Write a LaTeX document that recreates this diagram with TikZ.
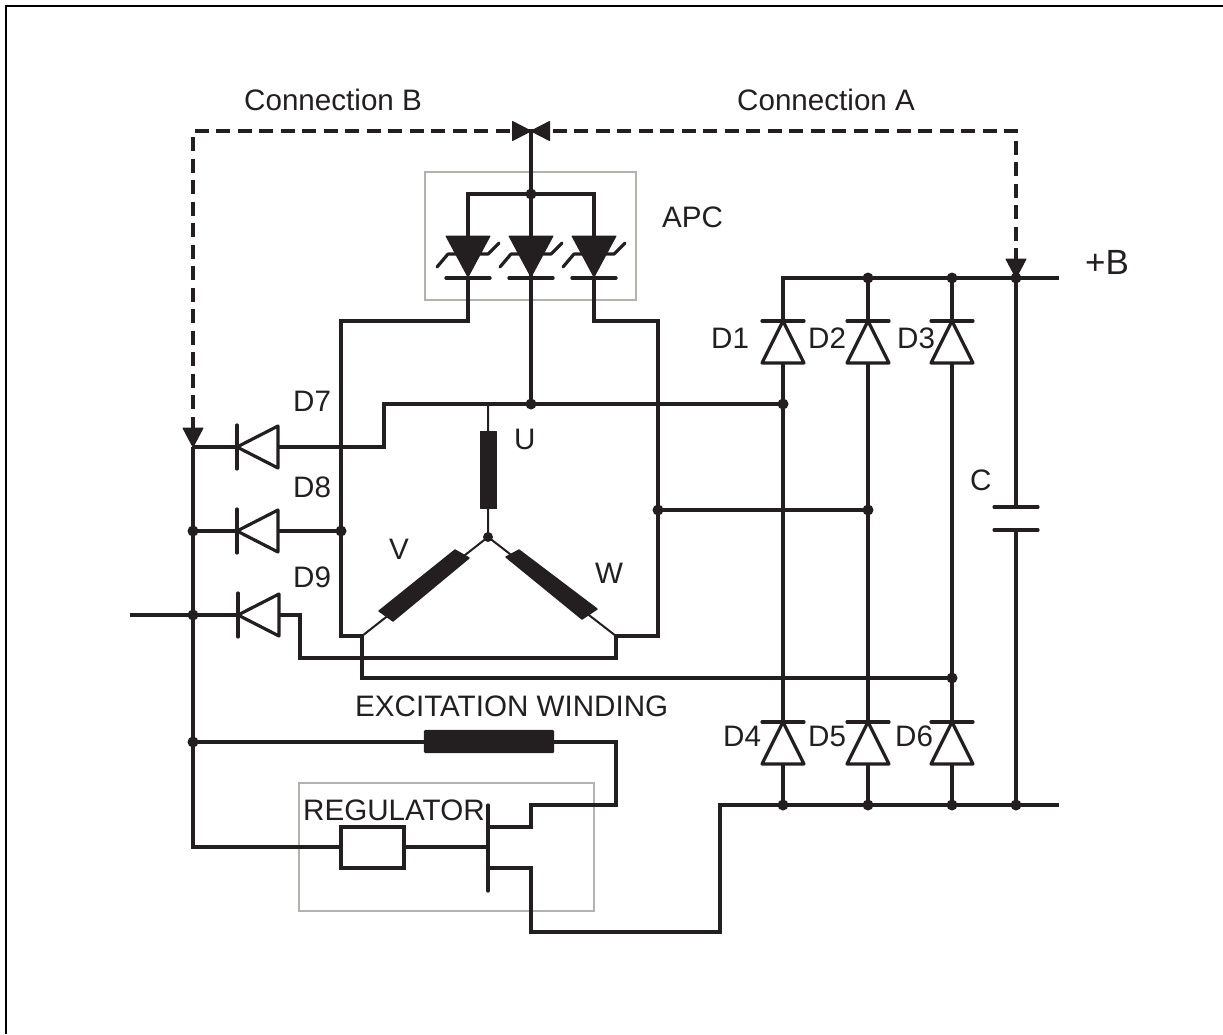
\documentclass[tikz,border=0pt]{standalone}
\usepackage{fontspec}
\setmainfont{Liberation Sans}
\usetikzlibrary{calc}
\definecolor{ink}{HTML}{231F20}
\definecolor{boxgray}{HTML}{B4B2AC}
\tikzset{
  x=1pt,y=-1pt,
  wire/.style={draw=ink,line width=3.2pt,line join=miter,line cap=butt},
  lead/.style={draw=ink,line width=2pt},
  dashwire/.style={draw=ink,line width=3.2pt,dash pattern=on 14pt off 7.5pt},
  framerule/.style={draw=black,line width=2.2pt},
  graybox/.style={draw=boxgray,line width=1.3pt},
  dotnode/.style={circle,fill=ink,inner sep=0pt,minimum size=11pt},
  coil/.style={fill=ink,draw=ink,line width=1.4pt,line join=round},
  lbl/.style={inner sep=0pt,anchor=base west,text=ink,font=\fontsize{29.6}{32}\selectfont},
  biglbl/.style={lbl,font=\fontsize{35}{38}\selectfont},
  pics/diodeup/.style={code={
    \draw[draw=ink,line width=3.2pt,line join=round,line cap=round] (-21,42) -- (21,42) -- (0,0) -- cycle;
    \draw[draw=ink,line width=3.2pt,line cap=round] (-21,0) -- (21,0);
  }},
  pics/diodeleft/.style={code={
    \draw[draw=ink,line width=3.2pt,line join=round,line cap=round] (41,-21) -- (41,21) -- (0,0) -- cycle;
    \draw[draw=ink,line width=3.2pt,line cap=round] (0,-22) -- (0,22);
  }},
  pics/tvs/.style={code={
    \fill[ink,draw=ink,line width=1pt,line join=round] (-22,0) -- (22,0) -- (0,41) -- cycle;
    \draw[draw=ink,line width=3.4pt,line cap=round] (-22,42) -- (22,42);
    \draw[draw=ink,line width=3.2pt,line cap=round,line join=round] (-31,31) -- (-20,18) -- (-8,18);
    \draw[draw=ink,line width=3.2pt,line cap=round,line join=round] (12,18) -- (20,18) -- (31,7);
  }},
  pics/arrowdown/.style={code={
    \fill[ink,draw=ink,line width=1pt,line join=round] (-10,-19) -- (10,-19) -- (0,0) -- cycle;
  }},
}
\begin{document}
\begin{tikzpicture}
\useasboundingbox (0,0) rectangle (1223,1034);
% frame, open at right and bottom
\coordinate (frameTL) at (6,6);
\coordinate (frameTR) at (1223,6);
\coordinate (frameBL) at (6,1034);
\draw[framerule] (frameBL) -- (frameTL) -- (frameTR);
% grey boxes
\node[graybox,rectangle,minimum width=211pt,minimum height=128pt,inner sep=0pt] (apcbox) at (530.5,236) {};
\node[graybox,rectangle,minimum width=295pt,minimum height=128pt,inner sep=0pt] (regbox) at (446.5,847) {};
% coordinates
\coordinate (dl) at (193,131);
\coordinate (dr) at (1016,131);
\coordinate (bow) at (531,131);
\coordinate (jTop) at (531,194);
\coordinate (apcL) at (468,194);
\coordinate (apcR) at (594,194);
\coordinate (vL) at (341,321);
\coordinate (vR) at (658,321);
\coordinate (star) at (488,537);
\coordinate (endV) at (362,636);
\coordinate (endW) at (616,636);
\coordinate (j7) at (193,447);
\coordinate (j8) at (193,531);
\coordinate (j9) at (193,615);
\coordinate (jExc) at (193,742);
\coordinate (jReg) at (193,847);
\coordinate (busU) at (384,404);
\coordinate (jU) at (488,404);
\coordinate (jUtop) at (531,404);
\coordinate (jD1) at (783,404);
\coordinate (jV) at (341,531);
\coordinate (jW) at (658,510);
\coordinate (jD2) at (868,510);
\coordinate (jD3) at (952,678);
\coordinate (tTop) at (488,805);
\coordinate (tBot) at (488,891);
\coordinate (free) at (130,615);
\coordinate (tops) at (783,278);
\coordinate (t2) at (868,278);
\coordinate (t3) at (952,278);
\coordinate (tC) at (1016,278);
\coordinate (tEnd) at (1059,278);
\coordinate (b1) at (783,805);
\coordinate (b2) at (868,805);
\coordinate (b3) at (952,805);
\coordinate (bC) at (1016,805);
\coordinate (bEnd) at (1059,805);
\coordinate (bL) at (720,805);
% dashed connections
\draw[dashwire] (bow) -- (dl) -- (193,428);
\draw[dashwire] (bow) -- (dr) -- (1016,259);
% bow-tie
\fill[ink,draw=ink,line width=1pt,line join=round] (512.5,121.5) -- (512.5,140.5) -- (549.5,121.5) -- (549.5,140.5) -- cycle;
% APC wiring
\draw[wire] (bow) -- (jUtop);
\draw[wire] (468,240) -- (apcL) -- (apcR) -- (594,240);
\draw[wire] (468,278) |- (vL) -- (341,636) -- (endV);
\draw[wire] (594,278) |- (vR) -- (658,636) -- (endW);
\pic at (468,236) {tvs};
\pic at (531,236) {tvs};
\pic at (594,236) {tvs};
% left bus
\draw[wire] (j7) -- (jReg) -- (341,847);
\draw[wire] (404,847) -- (488,847);
\draw[wire] (free) -- (237,615);
\draw[wire] (j7) -- (237,447);
\draw[wire] (j8) -- (237,531);
\draw[wire] (278,447) -| (busU) -- (jD1);
\draw[wire] (278,531) -- (jV);
\draw[wire] (280,615) -| (300,658) -| (616,634.4);
\draw[wire] (362,634.4) |- (jD3);
\pic at (237,447) {diodeleft};
\pic at (237,531) {diodeleft};
\pic[xshift=1pt] at (237,615) {diodeleft};
% arrowheads
\pic at (193,447) {arrowdown};
\pic at (1016,278) {arrowdown};
% star winding
\draw[lead] (jU) -- (star) -- (endV);
\draw[lead] (star) -- (endW);
\node[coil,rectangle,inner sep=0pt,minimum width=16pt,minimum height=77pt] (coilU) at (488.5,470) {};
\fill[coil] (455,550) -- (469,558) -- (393,621) -- (379,611) -- cycle;
\fill[coil] (506,557) -- (519,550) -- (597,609) -- (582,619) -- cycle;
\draw[wire] (jW) -- (jD2);
% bridge
\draw[wire] (tEnd) -- (tops) -- (783,321);
\draw[wire] (bEnd) -- (bL) -- (720,932) -| (531,868) -- (488,868);
\foreach \xx in {783,868,952}{
  \draw[wire] (\xx,278) -- (\xx,321);
  \draw[wire] (\xx,363) -- (\xx,721);
  \draw[wire] (\xx,764) -- (\xx,805);
  \pic at (\xx,321) {diodeup};
  \pic at (\xx,722) {diodeup};
}
% capacitor
\draw[wire] (tC) -- (1016,507);
\draw[wire] (1016,530) -- (bC);
\draw[wire,line cap=round] (994,507) -- (1038,507);
\draw[wire,line cap=round] (994,530) -- (1038,530);
% excitation winding and regulator
\draw[wire] (jExc) -- (424,742);
\draw[wire] (554,742) -| (616,805) -| (531,827) -- (488,827);
\node[coil,rectangle,rounded corners=1pt,inner sep=0pt,minimum width=129pt,minimum height=22pt] (exc) at (489,741.5) {};
\node[wire,rectangle,inner sep=0pt,minimum width=63pt,minimum height=41pt] (regblock) at (372.5,847.5) {};
\draw[wire,line cap=round] (tTop) -- (tBot);
% junction dots
\foreach \c/\n in {jTop/da,j8/db,j9/dc,jExc/dd,jV/de,jUtop/df,jD1/dg,jW/dh,jD2/di,jD3/dj,t2/dk,t3/dl,tC/dm,b1/dn,b2/do,b3/dp,bC/dq}{
  \node[dotnode] (\n) at (\c) {};
}
\node[dotnode,minimum size=10pt] (dstar) at (star) {};
% labels
\node[lbl] (lB) at (244,110) {Connection B};
\node[lbl] (lA) at (737,110) {Connection A};
\node[lbl] (lAPC) at (662,227) {APC};
\node[biglbl] (lPB) at (1085,274) {+B};
\node[lbl] (l1) at (711,348) {D1};
\node[lbl] (l2) at (808,348) {D2};
\node[lbl] (l3) at (897,348) {D3};
\node[lbl] (l4) at (723,746) {D4};
\node[lbl] (l5) at (808,746) {D5};
\node[lbl] (l6) at (895,746) {D6};
\node[lbl] (l7) at (293,411) {D7};
\node[lbl] (l8) at (293,497) {D8};
\node[lbl] (l9) at (293,587) {D9};
\node[lbl] (lU) at (514,449) {U};
\node[lbl] (lV) at (389,559) {V};
\node[lbl] (lW) at (595,583) {W};
\node[lbl] (lC) at (970,490) {C};
\node[lbl] (lE) at (355,716) {EXCITATION WINDING};
\node[lbl] (lR) at (303,820) {REGULATOR};
\end{tikzpicture}
\end{document}
